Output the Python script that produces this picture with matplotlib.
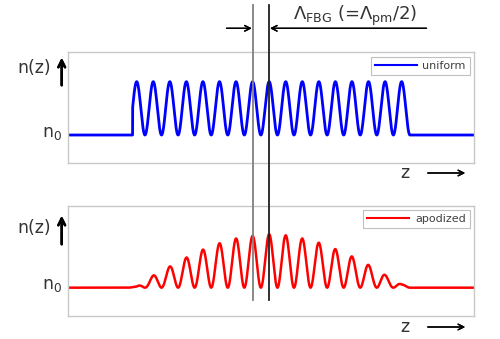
import numpy as np
import matplotlib
matplotlib.use("Agg")
import matplotlib.pyplot as plt
from matplotlib.transforms import blended_transform_factory

# ---- data ----
peak_z = np.arange(17)                       # grating peak positions (in grating periods)
uniform_amp = [1.0] * 17                     # uniform grating: constant modulation
apodized_amp = [0.02, 0.23, 0.40, 0.57, 0.72, 0.84, 0.93, 0.98, 1.01,
                0.99, 0.93, 0.85, 0.73, 0.59, 0.43, 0.24, 0.06]
uniform_span = (-0.25, 16.5)                 # grating start / end
apodized_span = (-0.5, 16.5)
marked_peaks = [7, 8]                        # period marker lines
labels = ["uniform", "apodized"]
colors = ["#0000ff", "#ff0000"]

xlim = (-4.13, 20.37)
ylim = (-0.53, 1.55)

plt.rcParams['mathtext.fontset'] = 'dejavusans'
fig = plt.figure(figsize=(5.0, 3.39), dpi=100)
ax1 = fig.add_axes([0.1366, 0.5183, 0.8114, 0.3274])
ax2 = fig.add_axes([0.1366, 0.0687, 0.8114, 0.3245])

z = np.linspace(xlim[0], xlim[1], 6000)
carrier = (1 + np.cos(2 * np.pi * z)) / 2


def profile(amps, span):
    env = np.interp(z, peak_z, amps)
    inside = (z >= span[0]) & (z <= span[1])
    return np.where(inside, env * carrier, 0.0)


for ax, amps, span, lab, col, lw in [
        (ax1, uniform_amp, uniform_span, labels[0], colors[0], 2.0),
        (ax2, apodized_amp, apodized_span, labels[1], colors[1], 1.8)]:
    ax.plot(z, profile(amps, span), color=col, lw=lw, label=lab)
    ax.set_xlim(*xlim)
    ax.set_ylim(*ylim)
    ax.set_xticks([])
    ax.set_yticks([])
    for s in ax.spines.values():
        s.set_color("#c8c8c8")
        s.set_linewidth(1.0)
    leg = ax.legend(loc="upper right", fontsize=8, frameon=True, fancybox=False,
                    handlelength=3.8, borderaxespad=0.4, borderpad=0.35,
                    handletextpad=0.5, labelcolor="#404040")
    leg.get_frame().set_edgecolor("#b0b0b0")
    leg.get_frame().set_linewidth(0.8)
    for h in leg.get_lines():
        h.set_linewidth(1.5)

tc = "#333333"
# n(z) labels, arrows, n0, z labels
for yc_nz, y_arr0, y_arr1, y_n0, y_z in [(68, 88, 55, 133, 173),
                                           (228, 247, 213, 285, 327)]:
    fig.text(34 / 500, 1 - yc_nz / 339, "n(z)", fontsize=12.5, color=tc,
             ha="center", va="center")
    fig.add_artist(plt.annotate("", xy=(61.7 / 500, 1 - y_arr1 / 339),
                                xytext=(61.7 / 500, 1 - y_arr0 / 339),
                                xycoords=fig.transFigure,
                                arrowprops=dict(arrowstyle="->", lw=1.8, color="black",
                                                mutation_scale=12)))
    fig.text(52 / 500, 1 - y_n0 / 339, r"$\mathrm{n}_0$", fontsize=12.5, color=tc,
             ha="center", va="center")
    fig.text(405 / 500, 1 - y_z / 339, "z", fontsize=12.5, color=tc,
             ha="center", va="center")
    fig.add_artist(plt.annotate("", xy=(468 / 500, 1 - y_z / 339),
                                xytext=(425 / 500, 1 - y_z / 339),
                                xycoords=fig.transFigure,
                                arrowprops=dict(arrowstyle="->", lw=1.0, color="black",
                                                mutation_scale=10)))

# vertical marker lines spanning both panels
tr = blended_transform_factory(ax1.transData, fig.transFigure)
for p, c in zip(marked_peaks, ["#808080", "#202020"]):
    fig.add_artist(plt.Line2D([p, p], [1 - 5 / 339, 1 - 300 / 339], transform=tr,
                              color=c, lw=1.3, clip_on=False))

# period arrows
y_a = 1 - 28.3 / 339
fig.add_artist(ax1.annotate("", xy=(marked_peaks[0] - 0.05, y_a), xytext=(5.43, y_a),
                            xycoords=tr, textcoords=tr, annotation_clip=False,
                            arrowprops=dict(arrowstyle="->", lw=1.0, color="black",
                                            mutation_scale=10, shrinkA=0, shrinkB=0)))
fig.add_artist(ax1.annotate("", xy=(marked_peaks[1] + 0.05, y_a), xytext=(17.5, y_a),
                            xycoords=tr, textcoords=tr, annotation_clip=False,
                            arrowprops=dict(arrowstyle="->", lw=1.0, color="black",
                                            mutation_scale=10, shrinkA=0, shrinkB=0)))
fig.text(355 / 500, 1 - 16 / 339, r"$\Lambda_{\mathrm{FBG}}$ (=$\Lambda_{\mathrm{pm}}$/2)",
         fontsize=13, color=tc, ha="center", va="center")

fig.savefig("out.png", dpi=100)
